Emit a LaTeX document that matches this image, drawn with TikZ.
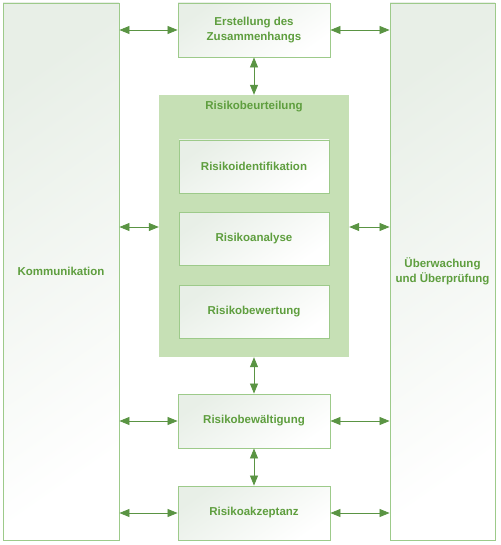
\documentclass[tikz,border=0pt]{standalone}
\usepackage{fontspec}
\setmainfont{Liberation Sans}
\usetikzlibrary{arrows.meta,positioning}

\definecolor{rahmen}{HTML}{9DCA8A}
\definecolor{schrift}{HTML}{5E9E3E}
\definecolor{pfeil}{HTML}{5A9443}
\definecolor{feld}{HTML}{C6E0B5}
\definecolor{grau}{HTML}{E8EFE7}

\tikzset{
  kasten/.style={draw=rahmen,line width=0.9pt,top color=grau,bottom color=white,shading angle=35,
    font=\bfseries\fontsize{11.5}{14.5}\selectfont,text=schrift,align=center,inner sep=0pt},
  pf/.style={pfeil,line width=0.8pt,{Triangle[length=10pt,width=8pt]}-{Triangle[length=10pt,width=8pt]}}
}

\begin{document}
\begin{tikzpicture}[x=1pt,y=-1pt]
    \useasboundingbox (0,0) rectangle (500,545);
    % seitliche Kaesten
    \node[kasten,minimum width=116pt,minimum height=537pt] (komm) at (61,271.5) {Kommunikation};
    \node[kasten,minimum width=105pt,minimum height=537pt] (ueber) at (442.5,271.5) {Überwachung\\und Überprüfung};
    % oben
    \node[kasten,minimum width=152pt,minimum height=54pt] (erst) at (254,30) {Erstellung des\\Zusammenhangs};
    % Risikobeurteilung
    \node[fill=feld,minimum width=190pt,minimum height=262pt,inner sep=0pt] (beurt) at (254,226) {};
    \node[font=\bfseries\fontsize{11.5}{13}\selectfont,text=schrift,below=3pt of beurt.north] (titel) {Risikobeurteilung};
    \node[kasten,minimum width=150pt,minimum height=53pt] (ident) at (254,166.5) {Risikoidentifikation};
    \node[kasten,minimum width=150pt,minimum height=53pt] (anal) at (254,238.5) {Risikoanalyse};
    \node[kasten,minimum width=150pt,minimum height=53pt] (bew) at (254,311.5) {Risikobewertung};
    % unten
    \node[kasten,minimum width=152pt,minimum height=54pt] (bewael) at (254,421) {Risikobewältigung};
    \node[kasten,minimum width=152pt,minimum height=54pt] (akz) at (254,513) {Risikoakzeptanz};
    % Pfeile
    \draw[pf] (komm.east |- erst.west) -- (erst.west);
    \draw[pf] (erst.east) -- (ueber.west |- erst.east);
    \draw[pf] (komm.east |- 0,227) -- (beurt.west |- 0,227);
    \draw[pf] (beurt.east |- 0,227) -- (ueber.west |- 0,227);
    \draw[pf] (komm.east |- bewael.west) -- (bewael.west);
    \draw[pf] (bewael.east) -- (ueber.west |- bewael.east);
    \draw[pf] (komm.east |- akz.west) -- (akz.west);
    \draw[pf] (akz.east) -- (ueber.west |- akz.east);
    \draw[pf] (erst.south) -- (beurt.north);
    \draw[pf] (beurt.south) -- (bewael.north);
    \draw[pf] (bewael.south) -- (akz.north);
\end{tikzpicture}
\end{document}
